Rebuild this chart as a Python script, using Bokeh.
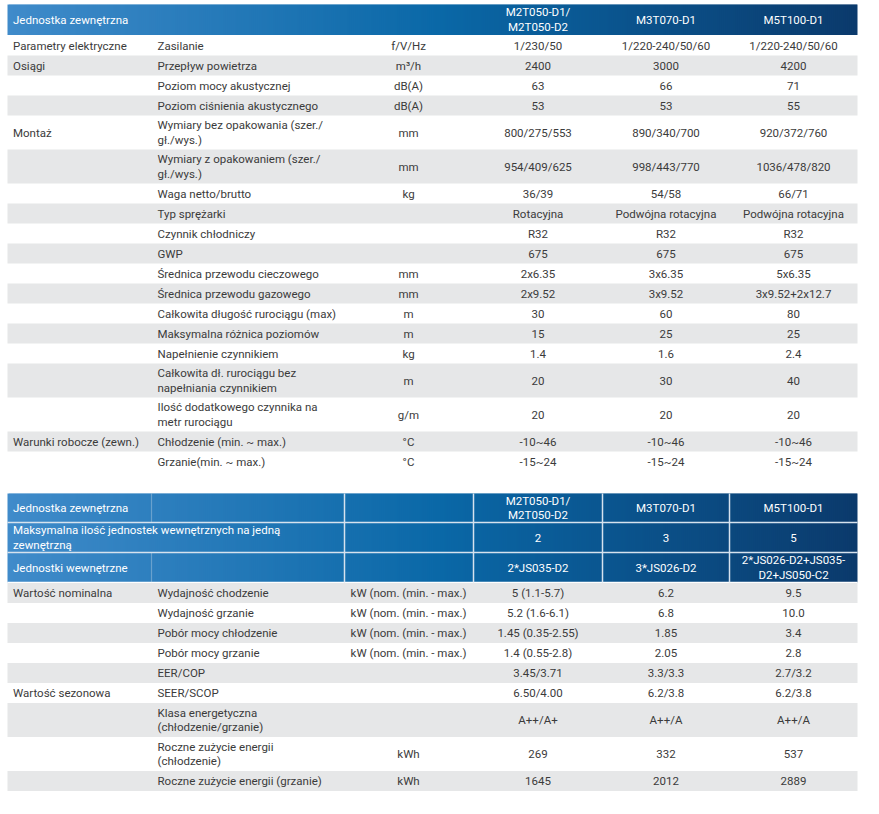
from bokeh.plotting import figure
from bokeh.models import Range1d, ColumnDataSource
from bokeh.core.properties import value
from bokeh.embed import file_html
from bokeh.resources import INLINE

# ---------------- data ----------------
t1_title = "Jednostka zewnętrzna"
models = ["M2T050-D1/\nM2T050-D2", "M3T070-D1", "M5T100-D1"]

t1_groups = ["Parametry elektryczne", "Osiągi", "", "", "Montaż", "", "", "", "", "", "",
             "", "", "", "", "", "", "Warunki robocze (zewn.)", ""]
t1_params = ["Zasilanie", "Przepływ powietrza", "Poziom mocy akustycznej",
             "Poziom ciśnienia akustycznego", "Wymiary bez opakowania (szer./\ngł./wys.)",
             "Wymiary z opakowaniem (szer./\ngł./wys.)", "Waga netto/brutto", "Typ sprężarki",
             "Czynnik chłodniczy", "GWP", "Średnica przewodu cieczowego",
             "Średnica przewodu gazowego", "Całkowita długość rurociągu (max)",
             "Maksymalna różnica poziomów", "Napełnienie czynnikiem",
             "Całkowita dł. rurociągu bez\nnapełniania czynnikiem",
             "Ilość dodatkowego czynnika na\nmetr rurociągu",
             "Chłodzenie (min. ~ max.)", "Grzanie(min. ~ max.)"]
t1_units = ["f/V/Hz", "m³/h", "dB(A)", "dB(A)", "mm", "mm", "kg", "", "", "", "mm", "mm",
            "m", "m", "kg", "m", "g/m", "°C", "°C"]
t1_m2t050 = ["1/230/50", "2400", "63", "53", "800/275/553", "954/409/625", "36/39",
             "Rotacyjna", "R32", "675", "2x6.35", "2x9.52", "30", "15", "1.4", "20", "20",
             "-10~46", "-15~24"]
t1_m3t070 = ["1/220-240/50/60", "3000", "66", "53", "890/340/700", "998/443/770", "54/58",
             "Podwójna rotacyjna", "R32", "675", "3x6.35", "3x9.52", "60", "25", "1.6", "30",
             "20", "-10~46", "-15~24"]
t1_m5t100 = ["1/220-240/50/60", "4200", "71", "55", "920/372/760", "1036/478/820", "66/71",
             "Podwójna rotacyjna", "R32", "675", "5x6.35", "3x9.52+2x12.7", "80", "25", "2.4",
             "40", "20", "-10~46", "-15~24"]

t2_head_labels = ["Jednostka zewnętrzna",
                  "Maksymalna ilość jednostek wewnętrznych na jedną\nzewnętrzną",
                  "Jednostki wewnętrzne"]
t2_head_m2t050 = [models[0], "2", "2*JS035-D2"]
t2_head_m3t070 = [models[1], "3", "3*JS026-D2"]
t2_head_m5t100 = [models[2], "5", "2*JS026-D2+JS035-\nD2+JS050-C2"]

t2_groups = ["Wartość nominalna", "", "", "", "", "Wartość sezonowa", "", "", ""]
t2_params = ["Wydajność chodzenie", "Wydajność grzanie", "Pobór mocy chłodzenie",
             "Pobór mocy grzanie", "EER/COP", "SEER/SCOP",
             "Klasa energetyczna\n(chłodzenie/grzanie)",
             "Roczne zużycie energii\n(chłodzenie)", "Roczne zużycie energii (grzanie)"]
t2_units = ["kW (nom. (min. - max.)"] * 4 + ["", "", "", "kWh", "kWh"]
t2_m2t050 = ["5 (1.1-5.7)", "5.2 (1.6-6.1)", "1.45 (0.35-2.55)", "1.4 (0.55-2.8)",
             "3.45/3.71", "6.50/4.00", "A++/A+", "269", "1645"]
t2_m3t070 = ["6.2", "6.8", "1.85", "2.05", "3.3/3.3", "6.2/3.8", "A++/A", "332", "2012"]
t2_m5t100 = ["9.5", "10.0", "3.4", "2.8", "2.7/3.2", "6.2/3.8", "A++/A", "537", "2889"]

# ---------------- layout / style ----------------
X_L, X_R = 7, 857
X_GROUP, X_PARAM, X_UNIT = 12.5, 157, 408
X_COLS = [537.5, 665.5, 793]
T1_TOP, T1_HEAD_H = 4, 30.5
T2_TOP = 493
T2_HEAD_H = [29, 30, 30]
FONT = value("Roboto")
FS = "11.5px"
LH = 1.05
TXT = "#3b3b3b"
GRAY = "#e6e7e8"
STOPS = [(7, (64, 139, 202)), (440, (10, 104, 167)), (857, (11, 58, 108))]

W, H = 863, 798
p = figure(width=W, height=H, x_range=Range1d(0, W), y_range=Range1d(H, 0),
           output_backend="svg", toolbar_location=None, min_border=0)
p.axis.visible = False
p.grid.visible = False
p.outline_line_color = None
p.background_fill_color = "white"


def grad_color(x):
    for (x0, c0), (x1, c1) in zip(STOPS[:-1], STOPS[1:]):
        if x <= x1:
            t = (x - x0) / (x1 - x0)
            return "#%02x%02x%02x" % tuple(int(round(a + (b - a) * t)) for a, b in zip(c0, c1))
    return "#%02x%02x%02x" % STOPS[-1][1]


def gradient_band(top, bottom):
    xs = list(range(X_L, X_R, 2))
    p.quad(left=xs, right=[min(x + 3, X_R) for x in xs], top=[top] * len(xs),
           bottom=[bottom] * len(xs), fill_color=[grad_color(x + 1) for x in xs],
           line_color=None)


def row_heights(params):
    return [34 if "\n" in s else 20 for s in params]


def add_text(xs, ys, texts, align="left", color=TXT):
    src = ColumnDataSource(dict(x=xs, y=ys, t=texts))
    p.text(x="x", y="y", text="t", source=src, text_font=FONT, text_font_size=FS,
           text_color=color, text_align=align, text_baseline="middle",
           text_line_height=LH)


def layout_rows(top, params):
    hs = row_heights(params)
    tops, y = [], top
    for h in hs:
        tops.append(y)
        y += h
    centers = [t + h / 2 for t, h in zip(tops, hs)]
    return tops, hs, centers


# ---------------- table 1 ----------------
gradient_band(T1_TOP, T1_TOP + T1_HEAD_H)
hc = T1_TOP + T1_HEAD_H / 2
add_text([X_GROUP], [hc], [t1_title], color="white")
add_text(X_COLS, [hc] * 3, models, align="center", color="white")

tops, hs, centers = layout_rows(T1_TOP + T1_HEAD_H + 0.5, t1_params)
gi = [i for i in range(len(hs)) if i % 2 == 1]
p.quad(left=[X_L] * len(gi), right=[X_R] * len(gi), top=[tops[i] for i in gi],
       bottom=[tops[i] + hs[i] for i in gi], fill_color=GRAY, line_color=None)
add_text([X_GROUP] * len(centers), centers, t1_groups)
add_text([X_PARAM] * len(centers), centers, t1_params)
add_text([X_UNIT] * len(centers), centers, t1_units, align="center")
for xc, col in zip(X_COLS, [t1_m2t050, t1_m3t070, t1_m5t100]):
    add_text([xc] * len(centers), centers, col, align="center")

# ---------------- table 2 ----------------
h_tops, y = [], T2_TOP
for h in T2_HEAD_H:
    h_tops.append(y)
    y += h
t2_head_bottom = y
gradient_band(T2_TOP, t2_head_bottom)
h_centers = [t + h / 2 for t, h in zip(h_tops, T2_HEAD_H)]
LINE = "#d6e2ee"
p.segment(x0=[X_L, X_L, X_L], x1=[X_R, X_R, X_R], y0=h_tops[1:] + [t2_head_bottom],
          y1=h_tops[1:] + [t2_head_bottom], line_color=[LINE, LINE, "white"], line_width=1.5)
vx = [344, 473, 602, 729]
p.segment(x0=vx, x1=vx, y0=[T2_TOP] * 4, y1=[t2_head_bottom] * 4, line_color=LINE,
          line_width=1.5)
p.segment(x0=[151, 151], x1=[151, 151], y0=[h_tops[0], h_tops[2]],
          y1=[h_tops[1], t2_head_bottom], line_color=LINE, line_width=1.2, line_alpha=0.35)
add_text([X_GROUP] * 3, h_centers, t2_head_labels, color="white")
for xc, col in zip(X_COLS, [t2_head_m2t050, t2_head_m3t070, t2_head_m5t100]):
    add_text([xc] * 3, h_centers, col, align="center", color="white")

tops2, hs2, centers2 = layout_rows(t2_head_bottom + 0.5, t2_params)
gi2 = [i for i in range(len(hs2)) if i % 2 == 0]
p.quad(left=[X_L] * len(gi2), right=[X_R] * len(gi2), top=[tops2[i] for i in gi2],
       bottom=[tops2[i] + hs2[i] for i in gi2], fill_color=GRAY, line_color=None)
add_text([X_GROUP] * len(centers2), centers2, t2_groups)
add_text([X_PARAM] * len(centers2), centers2, t2_params)
add_text([X_UNIT] * len(centers2), centers2, t2_units, align="center")
for xc, col in zip(X_COLS, [t2_m2t050, t2_m3t070, t2_m5t100]):
    add_text([xc] * len(centers2), centers2, col, align="center")

open("out.html", "w").write(file_html(p, INLINE))
